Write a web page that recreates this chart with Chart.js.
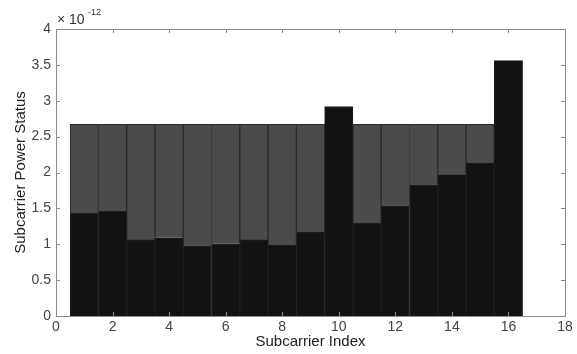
<!DOCTYPE html>
<html>
<head>
<meta charset="utf-8">
<script src="https://cdn.jsdelivr.net/npm/chart.js@4/dist/chart.umd.min.js"></script>
<style>
  html, body { margin: 0; padding: 0; background: #fff; }
  #wrap { width: 577px; height: 354px; }
</style>
</head>
<body>
<div id="wrap"><canvas id="power"></canvas></div>
<script>
// subcarrier indices and allocated power (units of 1e-12)
var subcarriers = [1, 2, 3, 4, 5, 6, 7, 8, 9, 10, 11, 12, 13, 14, 15, 16];
var noisePower = [1.43, 1.46, 1.06, 1.09, 0.97, 1.01, 1.06, 0.99, 1.17, 2.92, 1.29, 1.53, 1.82, 1.97, 2.13, 3.56];
var waterLevel = 2.67;
var xTicks = [0, 2, 4, 6, 8, 10, 12, 14, 16, 18];
var yTicks = [0, 0.5, 1, 1.5, 2, 2.5, 3, 3.5, 4];

// black part = noise, grey part = fill up to the water level
var blackData = subcarriers.map(function(s, i) { return {x: s, y: noisePower[i]}; });
var greyData = subcarriers.map(function(s, i) {
	return {x: s, y: Math.max(waterLevel - noisePower[i], 0)};
});

// MATLAB style box with inward ticks and the exponent label
var matlabBox = {
	id: 'matlabBox',
	afterDraw: function(chart) {
		var c = chart.ctx, a = chart.chartArea;
		var xs = chart.scales.x, ys = chart.scales.y;
		c.save();
		c.strokeStyle = '#8a8a8a';
		c.lineWidth = 1;
		c.strokeRect(a.left + 0.5, a.top + 0.5, a.right - a.left, a.bottom - a.top);
		c.beginPath();
		xTicks.forEach(function(v) {
			var px = Math.round(xs.getPixelForValue(v)) + 0.5;
			c.moveTo(px, a.bottom); c.lineTo(px, a.bottom - 4);
			c.moveTo(px, a.top); c.lineTo(px, a.top + 4);
		});
		yTicks.forEach(function(v) {
			var py = Math.round(ys.getPixelForValue(v)) + 0.5;
			c.moveTo(a.left, py); c.lineTo(a.left + 4, py);
			c.moveTo(a.right, py); c.lineTo(a.right - 4, py);
		});
		c.stroke();
		c.fillStyle = '#333';
		c.font = '14px "Liberation Sans", Arial, sans-serif';
		c.textBaseline = 'alphabetic';
		c.fillText('\u00d7 10', a.left + 1, a.top - 5);
		c.font = '9px "Liberation Sans", Arial, sans-serif';
		c.fillText('-12', a.left + 32, a.top - 14);
		c.restore();
	}
};

var ctx = document.getElementById('power').getContext('2d');
var powerChart = new Chart(ctx, {
	type: 'bar',
	data: {
		datasets: [{
			label: 'Noise',
			data: blackData,
			backgroundColor: '#121212',
			borderColor: '#1e1e1e',
			borderWidth: 1,
			barPercentage: 1,
			categoryPercentage: 1
		}, {
			label: 'Power',
			data: greyData,
			backgroundColor: '#4b4b4b',
			borderColor: '#2a2a2a',
			borderWidth: 1,
			barPercentage: 1,
			categoryPercentage: 1
		}]
	},
	options: {
		responsive: true,
		maintainAspectRatio: false,
		animation: false,
		layout: { padding: { top: 29, right: 12, left: 0, bottom: 0 } },
		plugins: { legend: { display: false }, tooltip: { enabled: false } },
		scales: {
			x: {
				type: 'linear',
				stacked: true,
				offset: false,
				min: 0, max: 18,
				afterBuildTicks: function(s) { s.ticks = xTicks.map(function(v) { return {value: v}; }); },
				afterFit: function(s) { s.height = 38; s.paddingLeft = 0; s.paddingRight = 0; },
				grid: { display: false, offset: false, drawTicks: false, tickLength: 0 },
				border: { display: false },
				ticks: { color: '#444', padding: 3, font: { family: '"Liberation Sans", Arial, sans-serif', size: 14 }, maxRotation: 0 },
				title: { display: true, text: 'Subcarrier Index', color: '#222', padding: { top: 0, bottom: 3 }, font: { family: '"Liberation Sans", Arial, sans-serif', size: 15 } }
			},
			y: {
				stacked: true,
				min: 0, max: 4,
				afterBuildTicks: function(s) { s.ticks = yTicks.map(function(v) { return {value: v}; }); },
				afterFit: function(s) { s.width = 56; },
				grid: { display: false, drawTicks: false, tickLength: 0 },
				border: { display: false },
				ticks: {
					color: '#444', padding: 5,
					font: { family: '"Liberation Sans", Arial, sans-serif', size: 14 },
					callback: function(v) { return String(v); }
				},
				title: { display: true, text: 'Subcarrier Power Status', color: '#222', padding: { top: 12, bottom: 0 }, font: { family: '"Liberation Sans", Arial, sans-serif', size: 15 } }
			}
		}
	},
	plugins: [matlabBox]
});
</script>
</body>
</html>
